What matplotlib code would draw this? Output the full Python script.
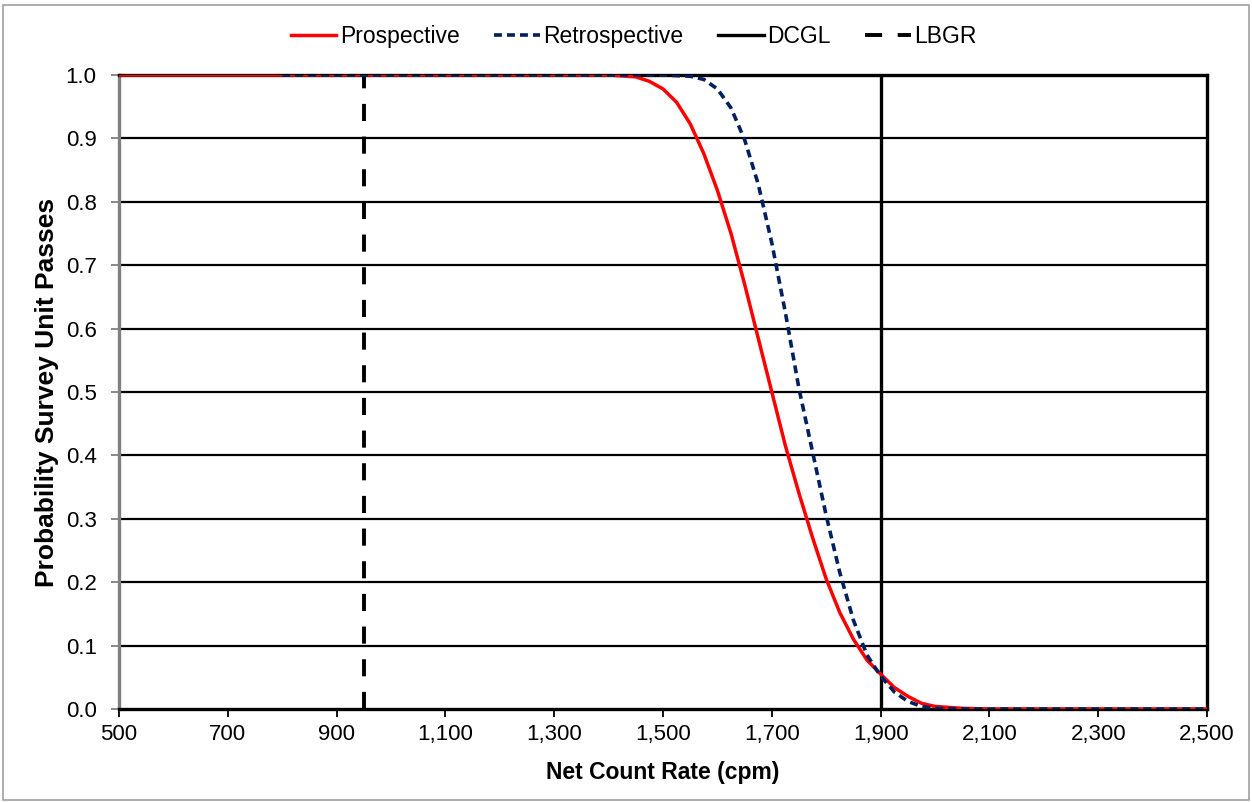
import matplotlib
matplotlib.use("Agg")
import matplotlib.pyplot as plt
from matplotlib.ticker import FuncFormatter
from matplotlib.patches import Rectangle

# Probability that a survey unit passes vs. net count rate
prosp_x = [500, 1400, 1450, 1475, 1500, 1525, 1550, 1575, 1600, 1625, 1650, 1675,
           1700, 1725, 1750, 1775, 1800, 1825, 1850, 1875, 1900, 1925, 1950,
           1975, 2000, 2050, 2100, 2500]
prosp_y = [1.0, 1.0, 0.997, 0.99, 0.978, 0.957, 0.923, 0.876, 0.818, 0.75, 0.67, 0.585,
           0.50, 0.415, 0.34, 0.27, 0.205, 0.152, 0.11, 0.077, 0.055, 0.034, 0.02,
           0.009, 0.004, 0.001, 0.0, 0.0]

retro_x = [800, 1500, 1550, 1575, 1600, 1625, 1650, 1675, 1700, 1725, 1750, 1775,
           1800, 1825, 1850, 1875, 1900, 1925, 1950, 1975, 2000, 2050, 2500]
retro_y = [1.0, 1.0, 0.998, 0.993, 0.978, 0.948, 0.898, 0.828, 0.735, 0.625, 0.505, 0.405,
           0.305, 0.215, 0.14, 0.085, 0.052, 0.027, 0.012, 0.004, 0.001, 0.0, 0.0]

DCGL = 1900
LBGR = 950

x_ticks = list(range(500, 2501, 200))
y_ticks = [i / 10 for i in range(0, 11)]

plt.rcParams["font.family"] = ["Liberation Sans", "DejaVu Sans"]

fig = plt.figure(figsize=(12.52, 8.02), dpi=100)
fig.patches.append(Rectangle((0.002, 0.003), 0.996, 0.991, transform=fig.transFigure,
                             fill=False, edgecolor="#a0a0a0", linewidth=1.2))
ax = fig.add_axes([0.0950, 0.1160, 0.8691, 0.7905])

ax.set_xlim(500, 2500)
ax.set_ylim(0, 1.0)

# horizontal gridlines
for yv in y_ticks[1:-1]:
    ax.axhline(yv, color="black", linewidth=1.6, zorder=1)

ax.plot(prosp_x, prosp_y, color="#ff0000", linewidth=2.5, label="Prospective", zorder=4)
ax.plot(retro_x, retro_y, color="#002060", linewidth=2.6, dashes=(2.2, 1.4),
        label="Retrospective", zorder=5)
ax.axvline(DCGL, color="black", linewidth=2.4, label="DCGL", zorder=3)
ax.axvline(LBGR, color="black", linewidth=2.8, dashes=(4.4, 4.0), label="LBGR", zorder=3)

ax.set_xticks(x_ticks)
ax.set_yticks(y_ticks)
ax.xaxis.set_major_formatter(FuncFormatter(lambda v, p: f"{int(v):,}"))
ax.yaxis.set_major_formatter(FuncFormatter(lambda v, p: f"{v:.1f}"))
ax.tick_params(axis="x", direction="out", length=6, width=1.3, color="black",
               labelsize=16, pad=5)
ax.tick_params(axis="y", direction="out", length=6, width=1.3, color="#808080",
               labelsize=16, pad=10)

for side in ["top", "right", "bottom"]:
    ax.spines[side].set_color("black")
    ax.spines[side].set_linewidth(2.4)
ax.spines["left"].set_color("#808080")
ax.spines["left"].set_linewidth(2.4)

ax.set_xlabel("Net Count Rate (cpm)", fontsize=16.5, fontweight="bold", labelpad=11)
ax.set_ylabel("Probability Survey Unit Passes", fontsize=19, fontweight="bold",
              labelpad=5)

leg = fig.legend(loc="center", bbox_to_anchor=(0.506, 0.955), ncol=4, frameon=False,
                 fontsize=16.5, handlelength=2.0, handletextpad=0.15, columnspacing=1.5)

fig.savefig("out.png", dpi=100)
